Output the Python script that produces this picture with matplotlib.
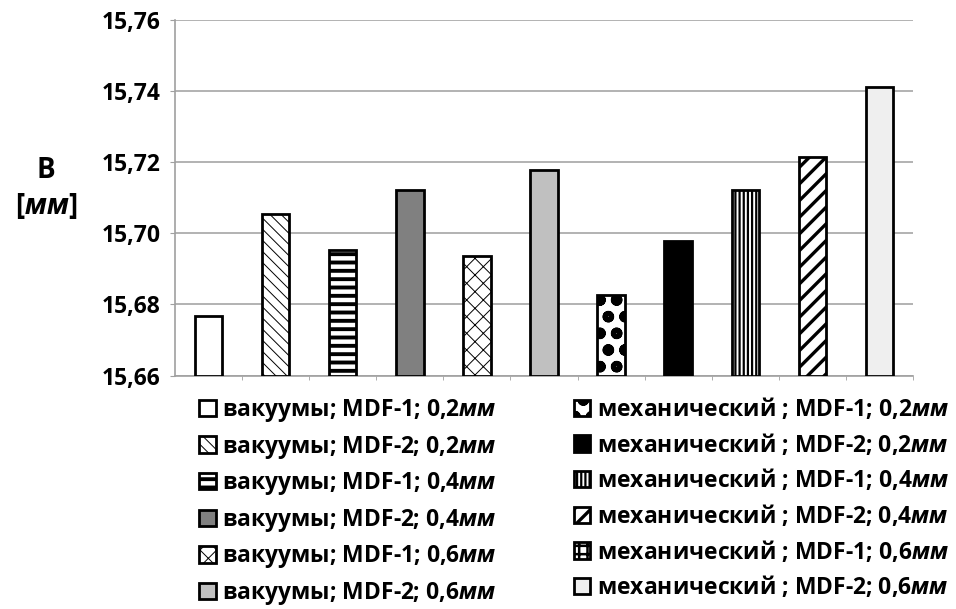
import numpy as np
import matplotlib
matplotlib.use("Agg")
import matplotlib as mpl
import matplotlib.pyplot as plt
from matplotlib.patches import Patch

FONT = "Open Sans"
mpl.rcParams["font.family"] = [FONT, "DejaVu Sans"]
mpl.rcParams["mathtext.fontset"] = "custom"
mpl.rcParams["mathtext.it"] = f"{FONT}:italic:bold"
mpl.rcParams["mathtext.rm"] = f"{FONT}:bold"

# ---- data ----
methods = ["вакуумы"] * 6 + ["механический "] * 6
materials = ["MDF-1", "MDF-2"] * 6
thickness = ["0,2", "0,2", "0,4", "0,4", "0,6", "0,6"] * 2
values = [15.6768, 15.7055, 15.6953, 15.7120, 15.6935, 15.7178,
          15.6826, 15.6979, 15.7122, 15.7215, np.nan, 15.7410]
y_ticks = [15.66, 15.68, 15.70, 15.72, 15.74, 15.76]

# ---- styles: facecolor, hatch, hatch linewidth ----
styles = [
    ("white", "", 1.0),
    ("white", "\\\\\\", 0.7),
    ("white", "--", 2.8),
    ("#808080", "", 1.0),
    ("white", "xx", 0.7),
    ("#c0c0c0", "", 1.0),
    ("white", "o", 3.6),
    ("black", "", 1.0),
    ("white", "||||", 1.6),
    ("white", "//", 2.4),
    ("white", "++", 1.8),
    ("#efefef", "", 1.0),
]

fig = plt.figure(figsize=(9.56, 6.09), dpi=100)
ax = fig.add_axes([175/956, 1-375.7/609, (913-175)/956, (375.7-19.5)/609])


def with_hatch_lw(artist, hlw):
    orig = artist.draw

    def draw(renderer, *a, **k):
        with mpl.rc_context({"hatch.linewidth": hlw}):
            return orig(renderer, *a, **k)
    artist.draw = draw
    if hasattr(artist, "set_hatch_linewidth"):
        artist.set_hatch_linewidth(hlw)


pos = 0
for i, v in enumerate(values):
    if np.isnan(v):
        continue
    fc, h, hlw = styles[i]
    bc = ax.bar(pos, v - y_ticks[0], bottom=y_ticks[0], width=0.41,
                facecolor=fc, edgecolor="black", hatch=h, linewidth=2.0,
                zorder=3)
    for p in bc:
        with_hatch_lw(p, hlw)
    pos += 1
nslots = pos

ax.set_ylim(y_ticks[0], y_ticks[-1])
ax.set_xlim(-0.5, nslots - 0.5)
ax.set_yticks(y_ticks)
ax.set_yticklabels([f"{t:.2f}".replace(".", ",") for t in y_ticks],
                   fontsize=16.5, fontweight="bold")
ax.set_xticks([])
ax.set_xticks(np.arange(nslots) + 0.5, minor=True)
ax.tick_params(axis="x", which="minor", length=3, color="#a0a0a0", direction="out")
ax.tick_params(axis="y", length=3.6, color="#a0a0a0", pad=7)
ax.grid(axis="y", color="#a6a6a6", linewidth=1.2, zorder=0)
for s in ["top", "right"]:
    ax.spines[s].set_visible(False)
for s in ["left", "bottom"]:
    ax.spines[s].set_color("#a0a0a0")
    ax.spines[s].set_linewidth(1.2)

fig.text(46/956, 1-170/609, "B", fontsize=20, fontweight="bold",
         ha="center", va="center")
fig.text(46/956, 1-206/609, "[$\\mathit{мм}$]", fontsize=20, fontweight="bold",
         ha="center", va="center")

handles = []
labels = []
for i in range(len(values)):
    fc, h, hlw = styles[i]
    p = Patch(facecolor=fc, edgecolor="black", hatch=h, linewidth=2.0)
    handles.append(p)
    labels.append(f"{methods[i]}; {materials[i]}; {thickness[i]}$\\mathit{{мм}}$")

leg = fig.legend(handles, labels, ncols=2, loc="upper left",
                 bbox_to_anchor=(199/956, 1-396/609), frameon=False,
                 prop={"size": 16.5, "weight": "bold"},
                 handlelength=0.72, handleheight=0.72, handletextpad=0.3,
                 labelspacing=0.42, columnspacing=3.35, borderaxespad=0,
                 borderpad=0)
for hnd, st in zip(leg.legend_handles, styles):
    with_hatch_lw(hnd, st[2])

fig.savefig("out.png", dpi=100)
